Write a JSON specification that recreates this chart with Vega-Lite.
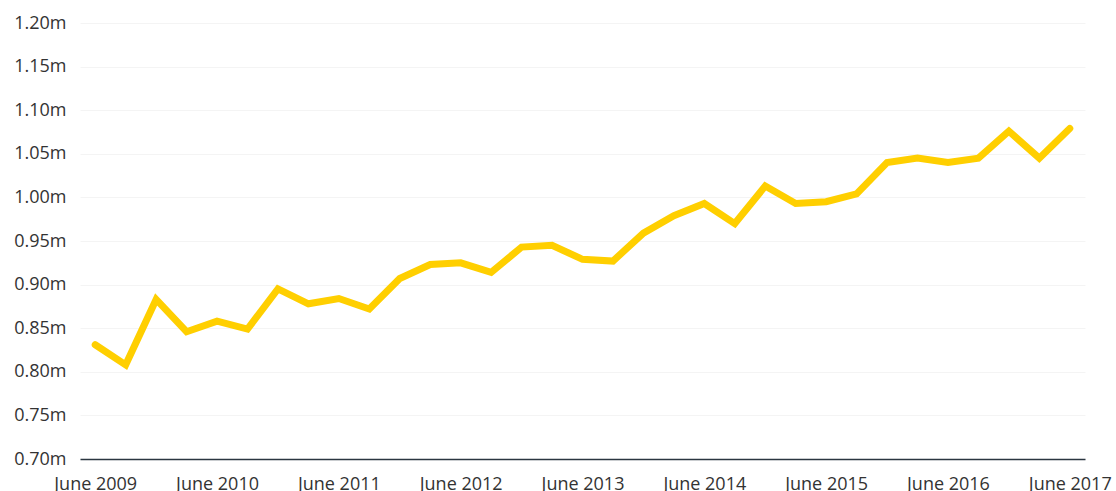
{
  "$schema": "https://vega.github.io/schema/vega-lite/v6.json",
  "autosize": "none",
  "width": 1005,
  "height": 436,
  "padding": {"left": 80, "top": 23, "right": 31, "bottom": 32},
  "background": "white",
  "config": {
    "view": {"stroke": null},
    "font": "Open Sans"
  },
  "data": {
    "values": [
      {"period": "June 2009", "value": 831000},
      {"period": "September 2009", "value": 808000},
      {"period": "December 2009", "value": 883000},
      {"period": "March 2010", "value": 846000},
      {"period": "June 2010", "value": 858000},
      {"period": "September 2010", "value": 849000},
      {"period": "December 2010", "value": 895000},
      {"period": "March 2011", "value": 878000},
      {"period": "June 2011", "value": 884000},
      {"period": "September 2011", "value": 872000},
      {"period": "December 2011", "value": 907000},
      {"period": "March 2012", "value": 923000},
      {"period": "June 2012", "value": 925000},
      {"period": "September 2012", "value": 914000},
      {"period": "December 2012", "value": 943000},
      {"period": "March 2013", "value": 945000},
      {"period": "June 2013", "value": 929000},
      {"period": "September 2013", "value": 927000},
      {"period": "December 2013", "value": 959000},
      {"period": "March 2014", "value": 979000},
      {"period": "June 2014", "value": 993000},
      {"period": "September 2014", "value": 970000},
      {"period": "December 2014", "value": 1013000},
      {"period": "March 2015", "value": 993000},
      {"period": "June 2015", "value": 995000},
      {"period": "September 2015", "value": 1004000},
      {"period": "December 2015", "value": 1040000},
      {"period": "March 2016", "value": 1045000},
      {"period": "June 2016", "value": 1040000},
      {"period": "September 2016", "value": 1045000},
      {"period": "December 2016", "value": 1076000},
      {"period": "March 2017", "value": 1045000},
      {"period": "June 2017", "value": 1079000}
    ]
  },
  "mark": {"type": "line", "color": "#FFCF00", "strokeWidth": 7, "strokeCap": "round", "strokeJoin": "miter"},
  "encoding": {
    "x": {
      "field": "period",
      "type": "ordinal",
      "sort": null,
      "scale": {"type": "point", "padding": 0.5},
      "axis": {
        "title": null,
        "values": ["June 2009", "June 2010", "June 2011", "June 2012", "June 2013", "June 2014", "June 2015", "June 2016", "June 2017"],
        "labelAngle": 0,
        "ticks": false,
        "grid": false,
        "domainColor": "#2b3640",
        "domainWidth": 1.5,
        "labelFontSize": 18,
        "labelColor": "#333333",
        "labelPadding": 16
      }
    },
    "y": {
      "field": "value",
      "type": "quantitative",
      "scale": {"domain": [700000, 1200000], "nice": false, "zero": false},
      "axis": {
        "title": null,
        "values": [700000, 750000, 800000, 850000, 900000, 950000, 1000000, 1050000, 1100000, 1150000, 1200000],
        "labelExpr": "format(datum.value / 1000000, '.2f') + 'm'",
        "domain": false,
        "ticks": false,
        "grid": true,
        "gridColor": "#f4f4f4",
        "gridWidth": 1,
        "labelFontSize": 18,
        "labelColor": "#333333",
        "labelPadding": 14
      }
    }
  }
}
